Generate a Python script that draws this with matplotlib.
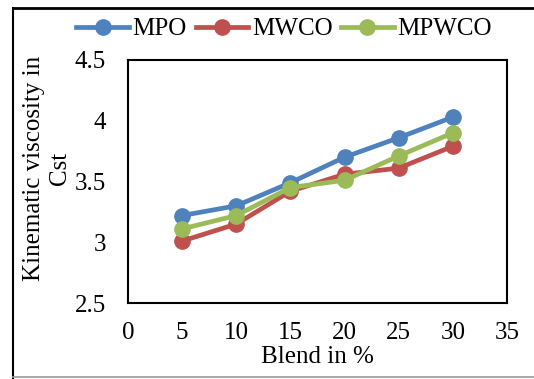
import matplotlib.pyplot as plt
from matplotlib.lines import Line2D

# data
blend = [5, 10, 15, 20, 25, 30]
mpo = [3.22, 3.30, 3.49, 3.70, 3.86, 4.03]
mwco = [3.01, 3.15, 3.42, 3.56, 3.61, 3.79]
mpwco = [3.11, 3.22, 3.45, 3.51, 3.71, 3.90]

x_ticks = [0, 5, 10, 15, 20, 25, 30, 35]
y_ticks = [2.5, 3, 3.5, 4, 4.5]
y_tick_labels = ['2.5', '3', '3.5', '4', '4.5']

plt.rcParams['font.family'] = ['Liberation Serif', 'DejaVu Serif']
fs = 18

fig = plt.figure(figsize=(5.34, 3.79), dpi=100)
ax = fig.add_axes([128 / 534, 1 - 303 / 379, (507 - 128) / 534, (303 - 60) / 379])

series = [('MPO', mpo, '#4F81BD'), ('MWCO', mwco, '#C0504D'), ('MPWCO', mpwco, '#9BBB59')]
for name, vals, color in series:
    ax.plot(blend, vals, color=color, lw=3.4, marker='o', ms=11, label=name)

ax.set_xlim(0, 35)
ax.set_ylim(2.5, 4.5)
ax.set_xticks(x_ticks)
ax.set_yticks(y_ticks)
ax.set_yticklabels(y_tick_labels)
ax.tick_params(axis='both', length=0, labelsize=fs)
ax.tick_params(axis='x', pad=14)
ax.tick_params(axis='y', pad=16)
for sp in ax.spines.values():
    sp.set_linewidth(1.5)
    sp.set_color('black')

ax.set_xlabel('Blend in %', fontsize=fs, labelpad=1)
fig.text(47 / 534, 1 - 168 / 379, 'Kinematic viscosity in\nCst', rotation=90,
         ha='center', va='center', fontsize=fs, linespacing=1.25)

ax.legend(loc='center', bbox_to_anchor=(0.532, 1 - 29 / 379), bbox_transform=fig.transFigure,
          ncol=3, frameon=False, fontsize=fs, handlelength=2.1, handletextpad=0.15,
          columnspacing=0.35, borderpad=0)

# outer chart frame
fig.add_artist(Line2D([13 / 534, 13 / 534], [0, 1 - 8 / 379], color='black', lw=1.5))
fig.add_artist(Line2D([13 / 534, 1], [1 - 8 / 379, 1 - 8 / 379], color='black', lw=2))
fig.add_artist(Line2D([13 / 534, 1], [1 - 377 / 379, 1 - 377 / 379], color='#999999', lw=1.2))

fig.savefig('out.png', dpi=100)
